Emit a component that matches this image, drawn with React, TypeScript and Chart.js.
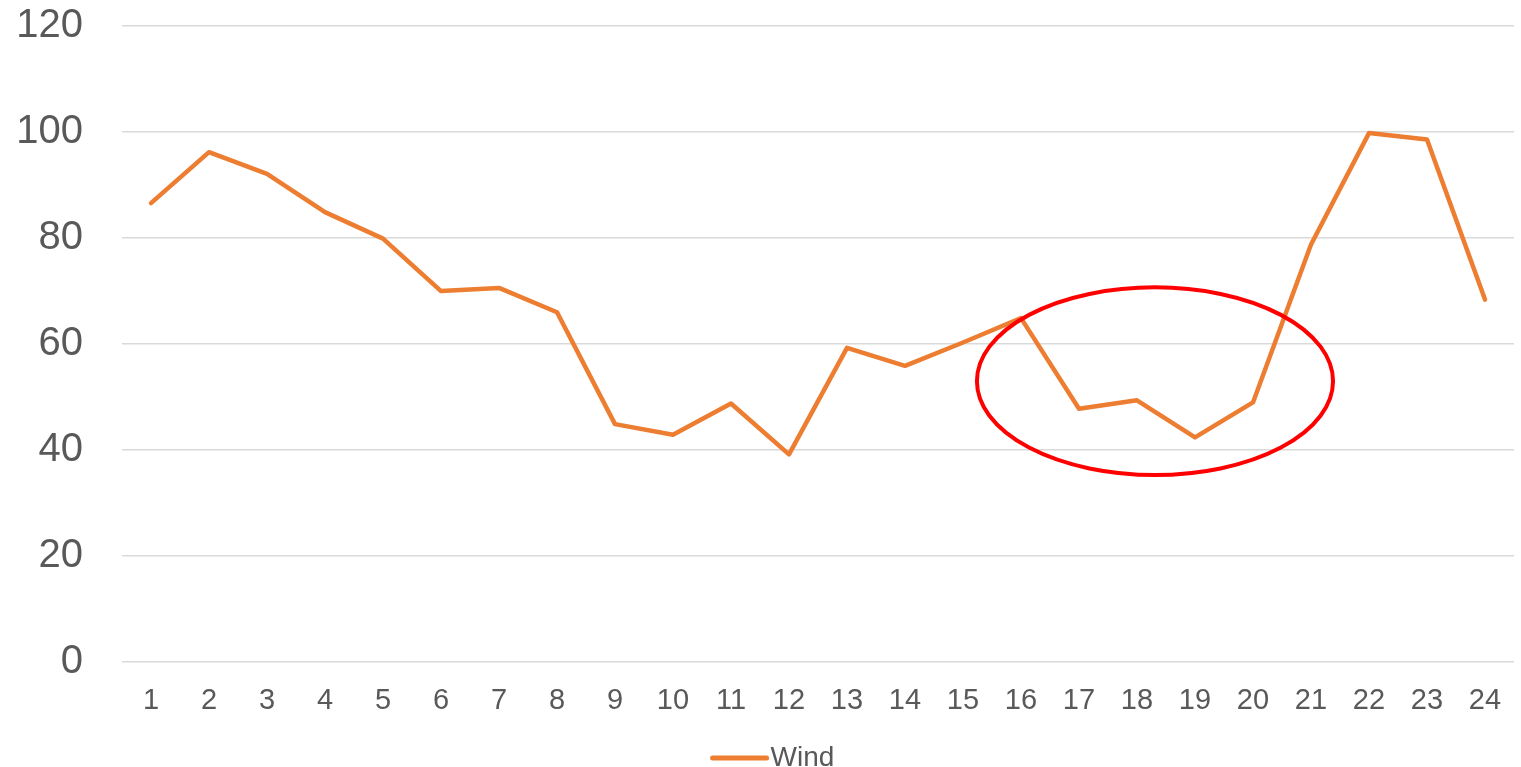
import React, { useEffect, useRef } from "react";
import { Chart, registerables } from "chart.js";

Chart.register(...registerables);

const categories = ["1","2","3","4","5","6","7","8","9","10","11","12","13","14","15","16","17","18","19","20","21","22","23","24"];
const windValues = [86.6, 96.2, 92.1, 84.9, 79.9, 70.0, 70.6, 66.0, 44.9, 42.9, 48.8, 39.2, 59.3, 55.9, 60.3, 64.9, 47.8, 49.4, 42.4, 49.0, 78.8, 99.8, 98.6, 68.4];
const yTicks = [0, 20, 40, 60, 80, 100, 120];
const seriesLabel = "Wind";
// highlight ellipse, in data units (category index, value)
const ellipseCenterIndex = 17.31;
const ellipseCenterValue = 53.0;
const ellipseRadiusIndex = 3.07;
const ellipseRadiusValue = 17.7;

const ORANGE = "#ED7D31";
const TEXT = "#595959";
const FONT = "'Liberation Sans', Arial, sans-serif";

const ellipsePlugin = {
  id: "ellipseNote",
  afterDatasetsDraw(chart: any) {
    const { ctx, scales } = chart;
    const x = scales.x, y = scales.y;
    const cx = x.getPixelForValue(ellipseCenterIndex);
    const cy = y.getPixelForValue(ellipseCenterValue);
    const rx = Math.abs(x.getPixelForValue(ellipseCenterIndex + ellipseRadiusIndex) - cx);
    const ry = Math.abs(y.getPixelForValue(ellipseCenterValue + ellipseRadiusValue) - cy);
    ctx.save();
    ctx.beginPath();
    ctx.ellipse(cx, cy, rx, ry, 0, 0, Math.PI * 2);
    ctx.strokeStyle = "#FF0000";
    ctx.lineWidth = 4;
    ctx.stroke();
    ctx.restore();
  },
};

const legendPlugin = {
  id: "customLegend",
  afterDraw(chart: any) {
    const { ctx, width, height } = chart;
    ctx.save();
    ctx.font = `28px ${FONT}`;
    const tw = ctx.measureText(seriesLabel).width;
    const lineLen = 54;
    const gap = 4;
    const total = lineLen + gap + tw;
    const startX = width / 2 - total / 2 + 13;
    const yy = height - 9;
    ctx.beginPath();
    ctx.moveTo(startX, yy);
    ctx.lineTo(startX + lineLen, yy);
    ctx.strokeStyle = ORANGE;
    ctx.lineWidth = 5;
    ctx.lineCap = "round";
    ctx.stroke();
    ctx.fillStyle = TEXT;
    ctx.textBaseline = "middle";
    ctx.textAlign = "left";
    ctx.fillText(seriesLabel, startX + lineLen + gap, yy);
    ctx.restore();
  },
};

export default function App() {
  const ref = useRef<HTMLCanvasElement>(null);
  useEffect(() => {
    if (!ref.current) return;
    const chart = new Chart(ref.current, {
      type: "line",
      data: {
        labels: categories,
        datasets: [
          {
            label: seriesLabel,
            data: windValues,
            borderColor: ORANGE,
            backgroundColor: ORANGE,
            borderWidth: 4.5,
            pointRadius: 0,
            pointHoverRadius: 0,
            tension: 0,
            borderCapStyle: "round",
            borderJoinStyle: "round",
          },
        ],
      },
      options: {
        animation: false,
        responsive: false,
        maintainAspectRatio: false,
        layout: { padding: { top: 26, right: 7, bottom: 28, left: 0 } },
        plugins: {
          legend: { display: false },
          tooltip: { enabled: false },
        },
        scales: {
          x: {
            type: "category",
            offset: true,
            grid: { display: false, drawTicks: false },
            border: { display: false },
            afterFit: (s: any) => {
              s.paddingLeft = 0;
              s.paddingRight = 0;
            },
            ticks: {
              color: TEXT,
              font: { family: FONT, size: 29 },
              padding: 21,
              maxRotation: 0,
              autoSkip: false,
            },
          },
          y: {
            min: 0,
            max: 120,
            afterBuildTicks: (s: any) => {
              s.ticks = yTicks.map((v) => ({ value: v }));
            },
            afterFit: (s: any) => {
              s.width = 122;
              s.paddingTop = 0;
              s.paddingBottom = 0;
            },
            grid: { color: "#D9D9D9", lineWidth: 1.5, drawTicks: false },
            border: { display: false },
            ticks: {
              color: TEXT,
              font: { family: FONT, size: 40 },
              padding: 39,
            },
          },
        },
      },
      plugins: [ellipsePlugin, legendPlugin],
    });
    return () => chart.destroy();
  }, []);
  return (
    <div style={{ position: "fixed", left: 0, top: 0, width: 1521, height: 767, background: "#fff" }}>
      <canvas ref={ref} width={1521} height={767} style={{ display: "block" }} />
    </div>
  );
}
